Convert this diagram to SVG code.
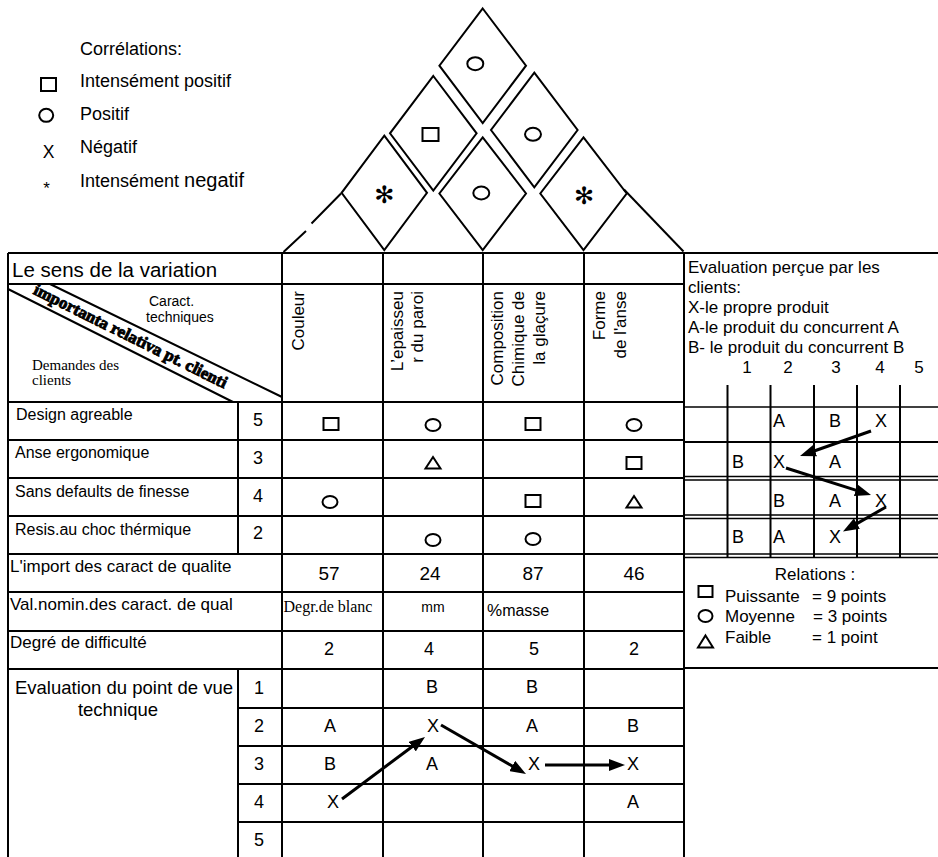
<svg xmlns="http://www.w3.org/2000/svg" width="938" height="857" viewBox="0 0 938 857">
  <style>
    .ln { stroke: #000; stroke-width: 2; fill: none; }
    .tn { stroke: #000; stroke-width: 1.5; fill: none; }
    .sym { stroke: #000; stroke-width: 2; fill: none; }
    .t { font-family: "Liberation Sans", Arial, sans-serif; fill: #000; }
    .s { font-family: "Liberation Serif", "Times New Roman", serif; fill: #000; }
    .arr { stroke: #000; stroke-width: 3; fill: none; marker-end: url(#ah); }
  </style>
  <defs>
    <rect id="sq" x="-7.5" y="-6" width="15" height="12"/>
    <ellipse id="ci" rx="7.5" ry="6"/>
    <path id="tr" d="M0,-6 L7.5,5.5 L-7.5,5.5 Z"/>
    <marker id="ah" markerUnits="userSpaceOnUse" markerWidth="16" markerHeight="12" refX="4" refY="6" orient="auto">
      <path d="M0,0 L16,6 L0,12 Z" fill="#000"/>
    </marker>
  </defs>
  <rect width="938" height="857" fill="#fff"/>

  <!-- correlation legend -->
  <g id="legend">
    <text class="t" x="80" y="55" font-size="18">Corrélations:</text>
    <rect class="sym" x="41" y="78" width="15" height="13"/>
    <text class="t" x="80" y="87" font-size="18">Intensément positif</text>
    <ellipse class="sym" cx="46.2" cy="115.3" rx="7" ry="6.5"/>
    <text class="t" x="80" y="120" font-size="18">Positif</text>
    <text class="t" x="48.5" y="158" font-size="17.5" text-anchor="middle">X</text>
    <text class="t" x="80" y="153" font-size="18">Négatif</text>
    <text class="t" x="46.5" y="194" font-size="17" text-anchor="middle">*</text>
    <text class="t" x="80" y="187" font-size="18">Intensément <tspan font-size="20">negatif</tspan></text>
  </g>

  <!-- correlation roof -->
  <g id="roof">
    <path class="ln" d="M341,193.5 L311.5,223.5 M306,231 L283.5,252"/>
    <path class="ln" d="M624,189.5 L683.5,251.5"/>
    <g id="r-top">
      <polygon class="ln" points="482.7,8.5 526,65.7 482.7,123 439.4,65.7"/>
      <ellipse class="sym" cx="475.3" cy="63.7" rx="8" ry="6.5"/>
    </g>
    <g id="r-mid-left">
      <polygon class="ln" points="433.3,76 476.6,133.3 433.3,190.6 390,133.3"/>
      <rect class="sym" x="422.5" y="128" width="16" height="13"/>
    </g>
    <g id="r-mid-right">
      <polygon class="ln" points="534.3,72.7 577.6,130 534.3,187.3 491,130"/>
      <ellipse class="sym" cx="533" cy="134.3" rx="8" ry="6.5"/>
    </g>
    <g id="r-bot-left">
      <polygon class="ln" points="384.3,135.7 427,192.8 384.3,250 341.6,192.8"/>
      <text x="384.3" y="203" font-family="DejaVu Sans, sans-serif" font-size="24" text-anchor="middle">✻</text>
    </g>
    <g id="r-bot-mid">
      <polygon class="ln" points="482.7,137.3 526,193.5 482.7,250 439.4,193.5"/>
      <ellipse class="sym" cx="481.3" cy="193" rx="8" ry="6.5"/>
    </g>
    <g id="r-bot-right">
      <polygon class="ln" points="583.5,137.3 626.7,193.5 583.5,250 540.3,193.5"/>
      <text x="584" y="204" font-family="DejaVu Sans, sans-serif" font-size="24" text-anchor="middle">✻</text>
    </g>
  </g>

  <!-- main grid -->
  <g id="grid">
    <path class="ln" d="M8,253 H938 M8,284 H684 M8,402 H684 M8,440 H684 M8,478 H684 M8,516 H684 M8,554 H684 M8,592 H684 M8,631 H684 M8,669 H684 M238,708 H684 M238,746 H684 M238,784 H684 M238,822 H684"/>
    <path class="ln" d="M8,253 V857 M238,402 V554 M238,669 V857 M282,253 V857 M383,253 V857 M483,253 V857 M584,253 V857 M684,253 V857"/>
    <!-- header diagonal band -->
    <path class="ln" d="M8,289 L233,402 M50,284 L282,397"/>
  </g>

  <!-- header texts -->
  <g id="header">
    <text class="t" x="12" y="277" font-size="20.5">Le sens de la variation</text>
    <text class="t" x="149" y="306" font-size="14">Caract.</text>
    <text class="t" x="146" y="322" font-size="14">techniques</text>
    <text class="s" x="32" y="370" font-size="15">Demandes des</text>
    <text class="s" x="32" y="385" font-size="15">clients</text>
    <text class="s" transform="translate(128,341) rotate(26.4)" text-anchor="middle" font-size="17" font-weight="bold" stroke="#000" stroke-width="0.9">importanta relativa pt. clienti</text>
  </g>

  <g id="col-couleur">
    <text class="t" transform="translate(304,291) rotate(-90)" text-anchor="end" font-size="17">Couleur</text>
  </g>
  <g id="col-epaisseur">
    <text class="t" transform="translate(403,291) rotate(-90)" text-anchor="end" font-size="17">L’epaisseu</text>
    <text class="t" transform="translate(423,291) rotate(-90)" text-anchor="end" font-size="17">r du paroi</text>
  </g>
  <g id="col-composition">
    <text class="t" transform="translate(503,291) rotate(-90)" text-anchor="end" font-size="17">Composition</text>
    <text class="t" transform="translate(524,291) rotate(-90)" text-anchor="end" font-size="17">Chimique de</text>
    <text class="t" transform="translate(545,291) rotate(-90)" text-anchor="end" font-size="17">la glaçure</text>
  </g>
  <g id="col-forme">
    <text class="t" transform="translate(605,291) rotate(-90)" text-anchor="end" font-size="17">Forme</text>
    <text class="t" transform="translate(626,291) rotate(-90)" text-anchor="end" font-size="17">de l'anse</text>
  </g>

  <!-- customer demands and weights -->
  <g id="demands">
    <text class="t" x="16" y="420" font-size="16">Design agreable</text>
    <text class="t" x="15" y="458" font-size="16">Anse ergonomique</text>
    <text class="t" x="15" y="497" font-size="16">Sans defaults de finesse</text>
    <text class="t" x="15" y="535" font-size="16">Resis.au choc thérmique</text>
    <g font-size="18" text-anchor="middle" class="t">
      <text x="258" y="426">5</text>
      <text x="258" y="464">3</text>
      <text x="258" y="502">4</text>
      <text x="258" y="539">2</text>
    </g>
  </g>

  <!-- relationship matrix -->
  <g id="matrix" class="sym">
    <use href="#sq" x="331" y="424"/>
    <use href="#ci" x="433" y="425"/>
    <use href="#sq" x="533" y="424"/>
    <use href="#ci" x="634" y="425"/>
    <use href="#tr" x="433" y="463"/>
    <use href="#sq" x="634" y="463"/>
    <use href="#ci" x="330" y="502"/>
    <use href="#sq" x="533" y="501"/>
    <use href="#tr" x="634" y="502"/>
    <use href="#ci" x="433" y="540"/>
    <use href="#ci" x="533" y="539"/>
  </g>

  <!-- quality characteristic rows -->
  <g id="quality">
    <text class="t" x="10" y="572" font-size="17">L'import des caract de qualite</text>
    <g class="t" font-size="19" text-anchor="middle">
      <text x="329" y="580">57</text>
      <text x="430" y="580">24</text>
      <text x="533" y="580">87</text>
      <text x="634" y="580">46</text>
    </g>
    <text class="t" x="10" y="610" font-size="17">Val.nomin.des caract. de qual</text>
    <text class="s" x="328" y="612" font-size="16" text-anchor="middle">Degr.de blanc</text>
    <text class="t" x="433" y="612" font-size="14" text-anchor="middle">mm</text>
    <text class="t" x="487" y="616" font-size="17">%<tspan font-size="16">masse</tspan></text>
    <text class="t" x="10" y="648" font-size="17">Degré de difficulté</text>
    <g class="t" font-size="18" text-anchor="middle">
      <text x="329" y="655">2</text>
      <text x="429" y="655">4</text>
      <text x="534" y="655">5</text>
      <text x="634" y="655">2</text>
    </g>
  </g>

  <!-- technical evaluation -->
  <g id="tech-eval">
    <text class="t" x="124" y="694" font-size="18.5" text-anchor="middle">Evaluation du point de vue</text>
    <text class="t" x="118" y="716" font-size="18.5" text-anchor="middle">technique</text>
    <g class="t" font-size="18" text-anchor="middle">
      <text x="259" y="694">1</text>
      <text x="259" y="732">2</text>
      <text x="259" y="770">3</text>
      <text x="259" y="808">4</text>
      <text x="259" y="846">5</text>
      <text x="432" y="693">B</text>
      <text x="532" y="693">B</text>
      <text x="330" y="732">A</text>
      <text x="433" y="732">X</text>
      <text x="532" y="732">A</text>
      <text x="633" y="732">B</text>
      <text x="330" y="770">B</text>
      <text x="432" y="770">A</text>
      <text x="534" y="770">X</text>
      <text x="633" y="770">X</text>
      <text x="333" y="808">X</text>
      <text x="633" y="808">A</text>
    </g>
  </g>

  <!-- customer perception panel -->
  <g id="perception">
    <g class="t" font-size="17">
      <text x="688" y="273">Evaluation perçue par les</text>
      <text x="688" y="293">clients:</text>
      <text x="688" y="313">X-le propre produit</text>
      <text x="688" y="333">A-le produit du concurrent A</text>
      <text x="688" y="353">B- le produit du concurrent B</text>
    </g>
    <g class="t" font-size="17" text-anchor="middle">
      <text x="747" y="373">1</text>
      <text x="788" y="373">2</text>
      <text x="836" y="373">3</text>
      <text x="880" y="373">4</text>
      <text x="919" y="373">5</text>
    </g>
    <path class="ln" d="M727.5,385 V557 M770.5,385 V557 M814,385 V557 M857,385 V557 M900,385 V557"/>
    <path class="tn" d="M684,407 H938"/>
    <path class="ln" d="M684,442 H938" stroke-width="3"/>
    <path class="tn" d="M684,476.5 H938 M684,480 H938 M684,515 H938 M684,518.5 H938 M684,554 H938 M684,557.5 H938"/>
    <g class="t" font-size="18">
      <text x="773" y="426.5">A</text>
      <text x="829" y="426.5">B</text>
      <text x="875" y="426.5">X</text>
      <text x="732" y="468">B</text>
      <text x="773" y="468">X</text>
      <text x="829" y="468">A</text>
      <text x="773" y="507">B</text>
      <text x="829" y="507">A</text>
      <text x="875" y="507">X</text>
      <text x="732" y="543">B</text>
      <text x="773" y="543">A</text>
      <text x="829" y="543">X</text>
    </g>
  </g>

  <!-- relations legend -->
  <g id="relations">
    <path class="ln" d="M684,668 H938"/>
    <text class="t" x="815" y="580" font-size="17" text-anchor="middle">Relations :</text>
    <rect class="sym" x="698.5" y="586" width="14" height="11"/>
    <text class="t" x="725" y="602" font-size="17">Puissante</text>
    <text class="t" x="812" y="602" font-size="17">= 9 points</text>
    <ellipse class="sym" cx="705.5" cy="616" rx="7" ry="6"/>
    <text class="t" x="725" y="622" font-size="17">Moyenne</text>
    <text class="t" x="813" y="622" font-size="17">= 3 points</text>
    <path class="sym" d="M705.5,635.5 L713,647.5 L698,647.5 Z"/>
    <text class="t" x="725" y="643" font-size="17">Faible</text>
    <text class="t" x="812" y="643" font-size="17">= 1 point</text>
  </g>

  <!-- trend arrows -->
  <g id="connectors">
    <line class="arr" x1="871" y1="431" x2="811.3" y2="452"/>
    <line class="arr" x1="786" y1="468" x2="859.6" y2="491.4"/>
    <line class="arr" x1="886" y1="507" x2="853.4" y2="525.6"/>
    <line class="arr" x1="342" y1="799" x2="415.4" y2="744.2"/>
    <line class="arr" x1="441" y1="725" x2="515.6" y2="768"/>
    <line class="arr" x1="545" y1="765" x2="613" y2="765"/>
  </g>
</svg>
